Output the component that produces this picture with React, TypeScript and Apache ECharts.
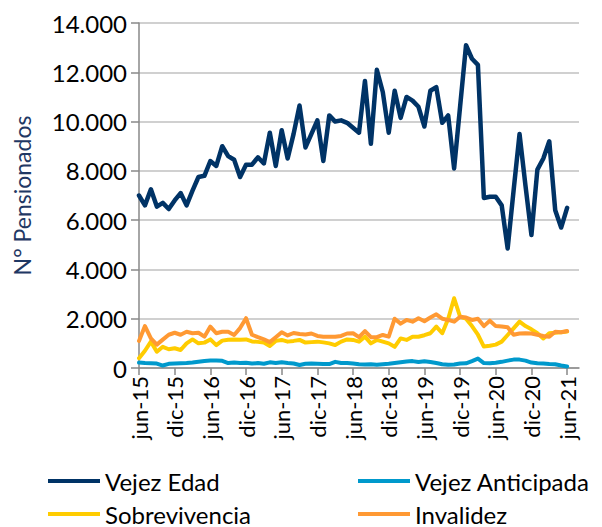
import React, { useEffect, useRef } from "react";
import * as echarts from "echarts";

const categories = [
  "jun-15","jul-15","ago-15","sep-15","oct-15","nov-15","dic-15","ene-16","feb-16","mar-16","abr-16","may-16",
  "jun-16","jul-16","ago-16","sep-16","oct-16","nov-16","dic-16","ene-17","feb-17","mar-17","abr-17","may-17",
  "jun-17","jul-17","ago-17","sep-17","oct-17","nov-17","dic-17","ene-18","feb-18","mar-18","abr-18","may-18",
  "jun-18","jul-18","ago-18","sep-18","oct-18","nov-18","dic-18","ene-19","feb-19","mar-19","abr-19","may-19",
  "jun-19","jul-19","ago-19","sep-19","oct-19","nov-19","dic-19","ene-20","feb-20","mar-20","abr-20","may-20",
  "jun-20","jul-20","ago-20","sep-20","oct-20","nov-20","dic-20","ene-21","feb-21","mar-21","abr-21","may-21",
  "jun-21","jul-21","ago-21"
];

const vejezEdad = [
  7000, 6600, 7250, 6550, 6700, 6450, 6800, 7100, 6600, 7200, 7750, 7800,
  8400, 8200, 9000, 8600, 8450, 7750, 8250, 8250, 8550, 8300, 9550, 8200,
  9650, 8500, 9500, 10650, 8950, 9500, 10050, 8400, 10250, 10000, 10050, 9950,
  9750, 9550, 11650, 9100, 12100, 11200, 9550, 11250, 10150, 11000, 10850, 10600,
  9800, 11250, 11400, 9950, 10250, 8100, 10600, 13100, 12550, 12300, 6900, 6950,
  6950, 6600, 4850, 7200, 9500, 7400, 5400, 8050, 8500, 9200, 6400, 5700,
  6500
];

const vejezAnticipada = [
  220, 200, 190, 180, 100, 170, 180, 190, 200, 220, 250, 280,
  300, 300, 290, 200, 220, 200, 210, 180, 200, 170, 230, 200,
  230, 200, 180, 120, 170, 180, 170, 160, 160, 250, 200, 200,
  180, 150, 140, 150, 130, 150, 170, 200, 230, 260, 280, 240,
  270, 240, 200, 150, 130, 140, 180, 190, 280, 380, 200, 190,
  210, 250, 300, 340, 340, 300, 220, 190, 180, 160, 150, 100,
  60
];

const sobrevivencia = [
  400, 700, 1070, 660, 860, 760, 800, 730, 1000, 1160, 1000, 1030,
  1160, 930, 1110, 1150, 1160, 1150, 1160, 1080, 1060, 1030, 890, 1100,
  1140, 1070, 1100, 1140, 1030, 1050, 1070, 1040, 1000, 930, 1070, 1160,
  1140, 1070, 1270, 1000, 1140, 1070, 1000, 860, 1200, 1140, 1270, 1270,
  1330, 1410, 1680, 1410, 2000, 2830, 2080, 2000, 1700, 1350, 870, 900,
  950, 1070, 1340, 1610, 1880, 1700, 1570, 1410, 1200, 1410, 1430, 1450,
  1480
];

const invalidez = [
  1100, 1700, 1200, 950, 1150, 1350, 1430, 1350, 1470, 1410, 1430, 1270,
  1680, 1410, 1470, 1470, 1340, 1620, 2020, 1350, 1250, 1160, 1050, 1250,
  1450, 1320, 1420, 1380, 1360, 1400, 1300, 1270, 1270, 1270, 1300, 1400,
  1410, 1250, 1500, 1250, 1250, 1340, 1270, 2000, 1800, 1950, 1880, 2020,
  1900, 2050, 2180, 2000, 1950, 1880, 2080, 2050, 1950, 2000, 1700, 1920,
  1700, 1680, 1650, 1350, 1400, 1410, 1400, 1350, 1300, 1270, 1470, 1450,
  1500
];

const seriesNames = ["Vejez Edad", "Vejez Anticipada", "Sobrevivencia", "Invalidez"];
const seriesColors = ["#003366", "#0099CC", "#FFCC00", "#FF9933"];

const FONT = "Lato, 'Noto Sans', sans-serif";

function fmt(v: number): string {
  const s = String(Math.round(v));
  return s.replace(/\B(?=(\d{3})+(?!\d))/g, ".");
}

export default function App() {
  const ref = useRef<HTMLDivElement>(null);
  useEffect(() => {
    if (!ref.current) return;
    const chart = echarts.init(ref.current, null, { renderer: "svg" });
    const dataSets = [vejezEdad, vejezAnticipada, sobrevivencia, invalidez];
    const legendPos = [
      { left: 48, top: 469 },
      { left: 358, top: 469 },
      { left: 48, top: 502 },
      { left: 358, top: 502 },
    ];
    chart.setOption({
      animation: false,
      backgroundColor: "#ffffff",
      textStyle: { fontFamily: FONT },
      grid: { left: 139, right: 23, top: 23, bottom: 159, containLabel: false },
      legend: seriesNames.map((n, i) => ({
        data: [n],
        left: legendPos[i].left,
        top: legendPos[i].top,
        icon: "rect",
        itemWidth: 52,
        itemHeight: 4,
        padding: 0,
        textStyle: { fontSize: 24, color: "#000", fontFamily: FONT },
      })),
      xAxis: {
        type: "category",
        data: categories,
        boundaryGap: false,
        axisLine: { show: true, lineStyle: { color: "#898989", width: 1.5 } },
        axisTick: { show: true, interval: 5, length: 7, lineStyle: { color: "#898989", width: 1.5 } },
        axisLabel: {
          interval: 5,
          rotate: 90,
          fontSize: 22,
          color: "#000",
          margin: 8,
          padding: [8, 0, 0, 0],
          fontFamily: FONT,
        },
        splitLine: { show: false },
      },
      yAxis: {
        type: "value",
        min: 0,
        max: 14000,
        interval: 2000,
        name: "N° Pensionados",
        nameLocation: "middle",
        nameGap: 106,
        nameTextStyle: { fontSize: 23, color: "#1F3864", fontFamily: FONT },
        axisLine: { show: true, lineStyle: { color: "#898989", width: 1.5 } },
        axisTick: { show: true, length: 8, lineStyle: { color: "#898989", width: 1.5 } },
        axisLabel: {
          formatter: (v: number) => fmt(v),
          fontSize: 24,
          color: "#000",
          margin: 12,
          fontFamily: FONT,
        },
        splitLine: { show: true, lineStyle: { color: "#C0C0C0", width: 1.5 } },
      },
      series: seriesNames.map((n, i) => ({
        name: n,
        type: "line",
        data: dataSets[i],
        showSymbol: false,
        symbol: "none",
        lineStyle: { width: i === 0 ? 4.5 : 4, color: seriesColors[i], cap: "round", join: "round" },
        itemStyle: { color: seriesColors[i] },
      })),
    });
    return () => chart.dispose();
  }, []);
  return (
    <div
      ref={ref}
      style={{ position: "absolute", left: 0, top: 0, width: 602, height: 527 }}
    />
  );
}
